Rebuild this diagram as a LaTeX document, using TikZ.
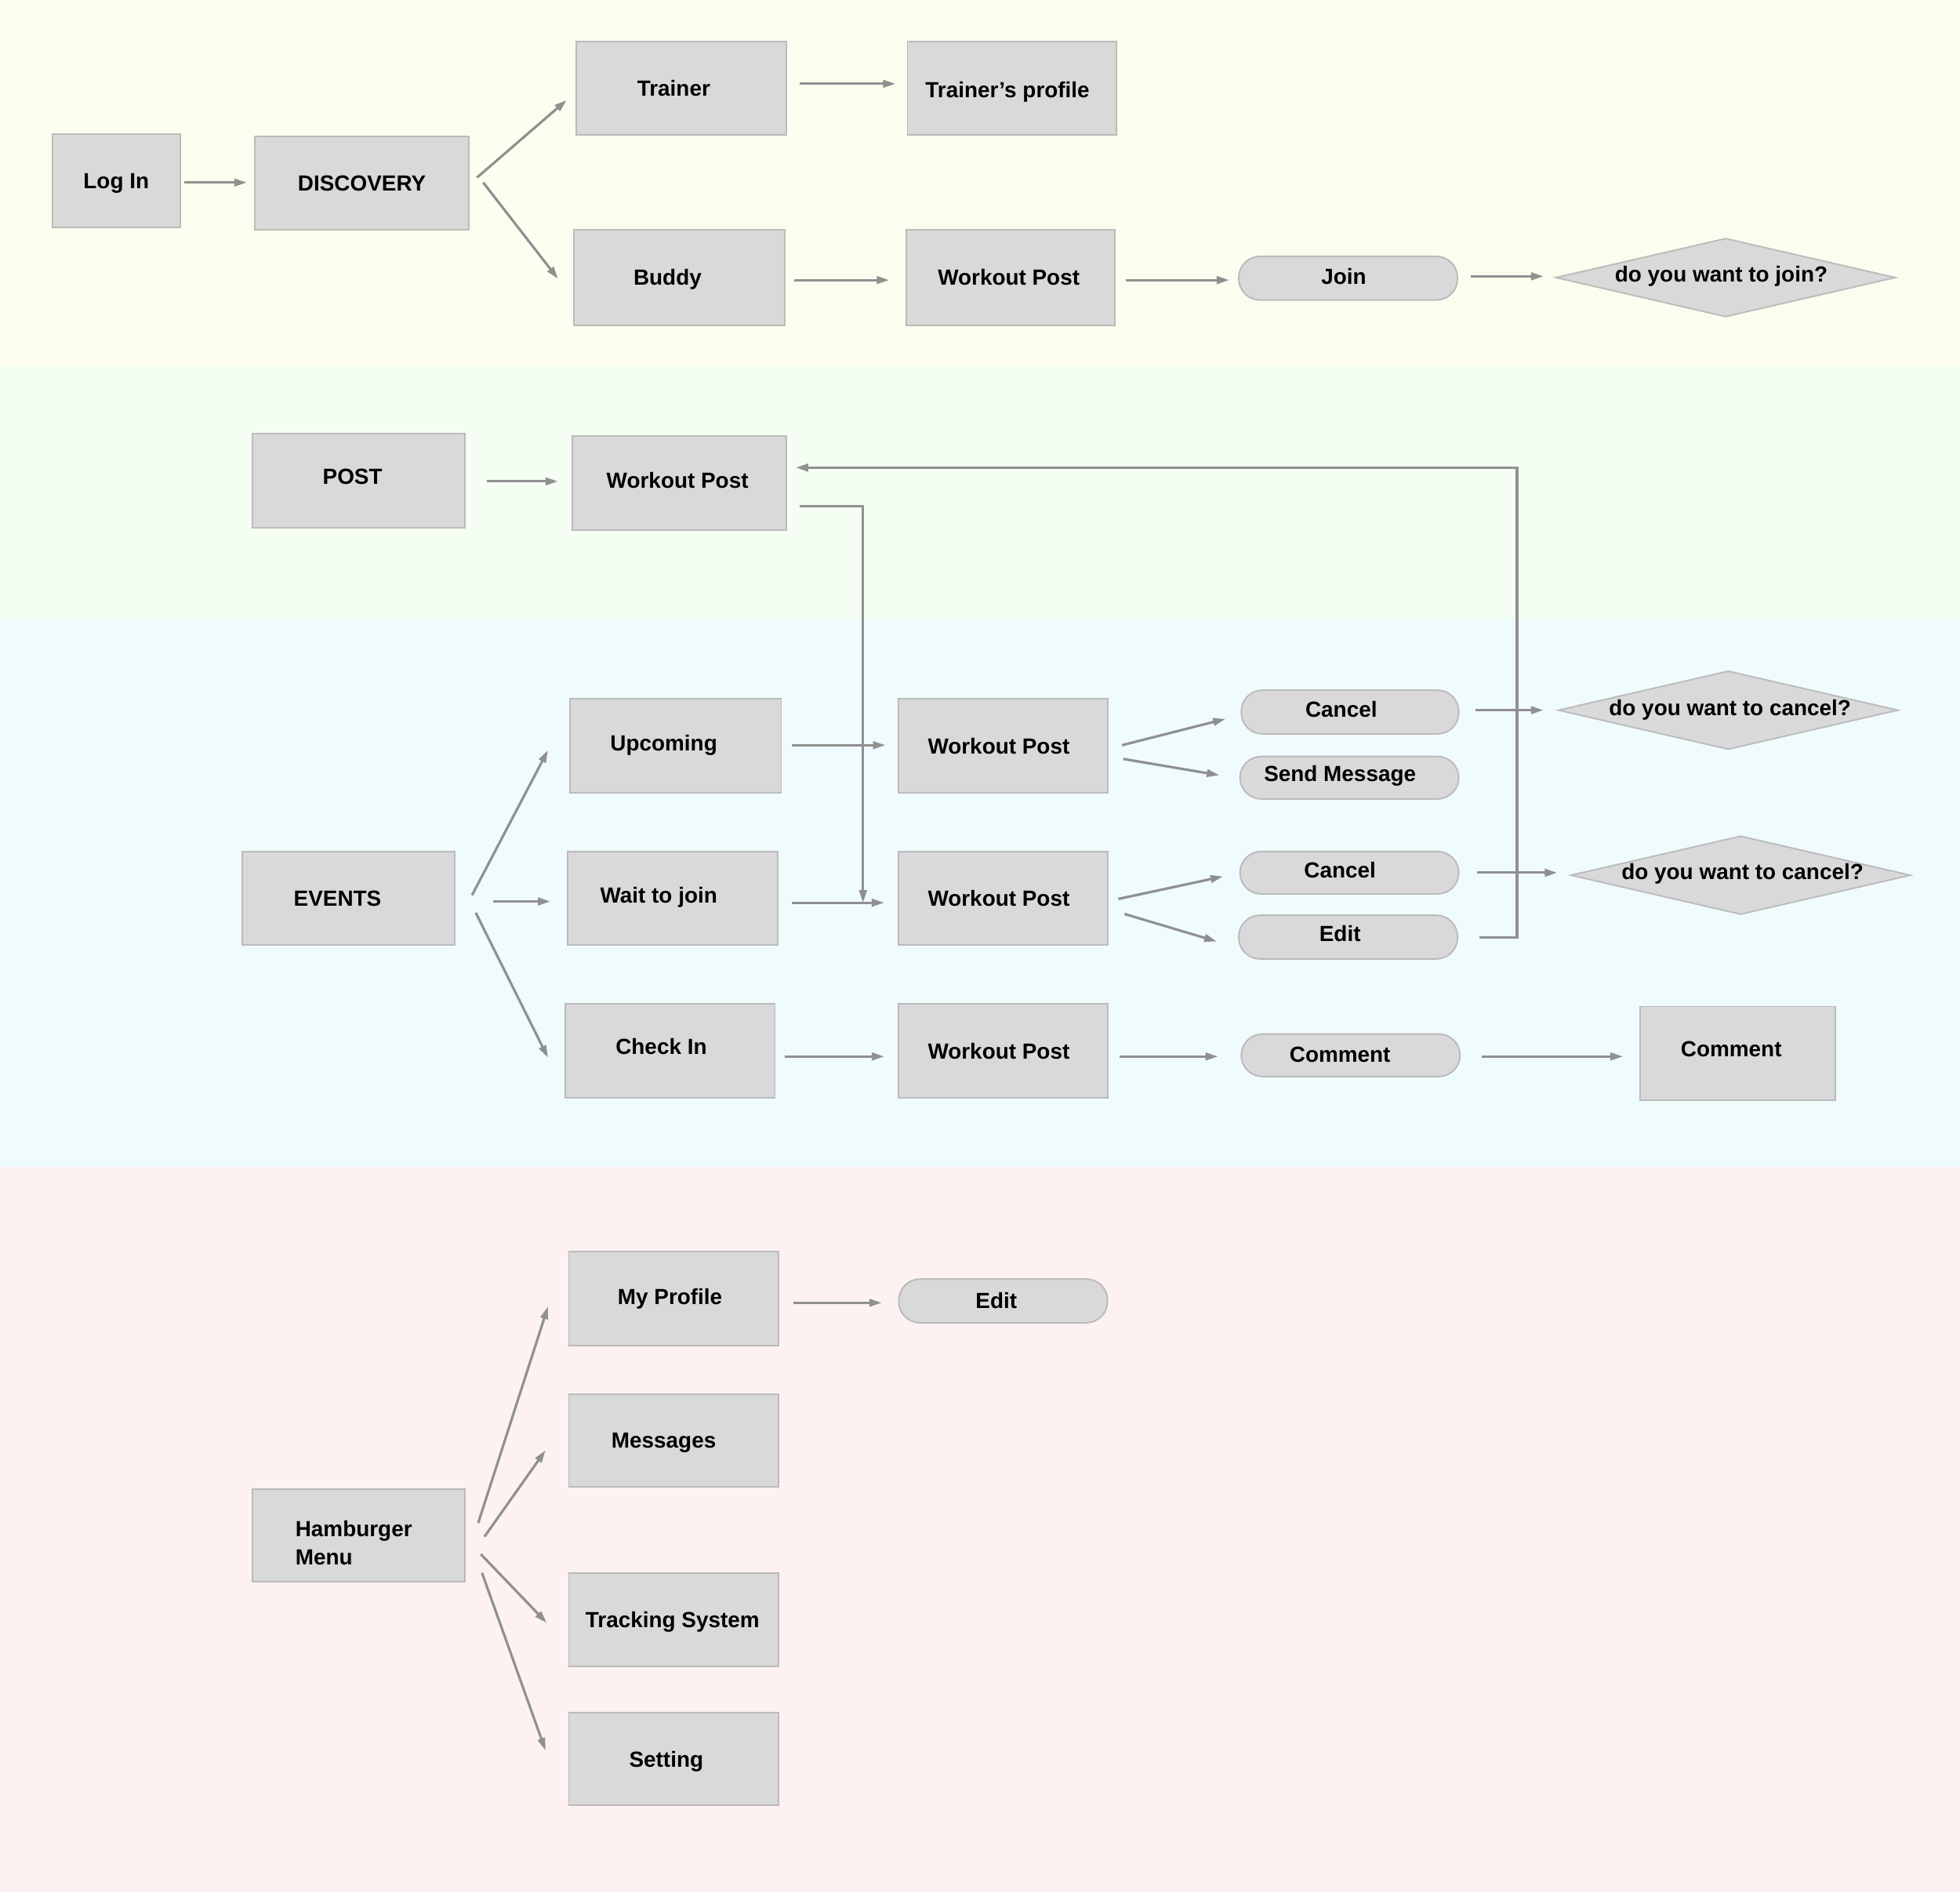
\documentclass[tikz,border=0pt]{standalone}
\usepackage{fontspec}
\setmainfont{Liberation Sans}
\usetikzlibrary{arrows.meta,calc}
\definecolor{bandY}{HTML}{FCFDEE}
\definecolor{bandG}{HTML}{F4FEF2}
\definecolor{bandB}{HTML}{F0FBFD}
\definecolor{bandP}{HTML}{FDF2F1}
\definecolor{boxc}{HTML}{D9D9D9}
\definecolor{bordc}{HTML}{BBBBBB}
\definecolor{arrc}{HTML}{909090}
\tikzset{
  box/.style={draw=bordc, fill=boxc, line width=1.2pt, inner sep=0pt},
  pill/.style={box, rounded corners=17pt},
  dmd/.style={inner sep=0pt},
  tx/.style={font=\fontsize{17.5}{22}\selectfont\bfseries, text=black, inner sep=0pt, text height=12.5pt, text depth=0pt},
  arr/.style={draw=arrc, line width=2pt, -{Triangle[length=10pt,width=6pt]}},
}
\begin{document}
\begin{tikzpicture}[x=1pt,y=-1pt]
\useasboundingbox (0,0) rectangle (1568,1513.45);
% bands
\fill[bandY] (0,0) rectangle (1568,293);
\fill[bandG] (0,293) rectangle (1568,495);
\fill[bandB] (0,495) rectangle (1568,933);
\fill[bandP] (0,933) rectangle (1568,1513.45);

% ---- DISCOVERY band
\node[box, minimum width=102pt, minimum height=75pt, label={[tx]center:Log In}] (login) at (93,144.5) {};
\node[box, minimum width=171pt, minimum height=75pt, label={[tx]center:DISCOVERY}] (disc) at (289.5,146.5) {};
\node[box, minimum width=168pt, minimum height=75pt, label={[tx,xshift=-6pt]center:Trainer}] (trainer) at (545,70.5) {};
\node[box, minimum width=167pt, minimum height=75pt, label={[tx,xshift=-3.5pt,yshift=-1.5pt]center:Trainer’s profile}] (tprof) at (809.5,70.5) {};
\node[box, minimum width=169pt, minimum height=76pt, label={[tx,xshift=-9.5pt]center:Buddy}] (buddy) at (543.5,222) {};
\node[box, minimum width=167pt, minimum height=76pt, label={[tx,xshift=-1.5pt]center:Workout Post}] (wp0) at (808.5,222) {};
\node[pill, minimum width=175pt, minimum height=35pt, label={[tx,xshift=-3.5pt,yshift=1.5pt]center:Join}] (join) at (1078.5,222.5) {};
\node[dmd, minimum width=271pt, minimum height=62pt] (djoin) at (1380.5,222) {};
\draw[box] (djoin.west) -- (djoin.north) -- (djoin.east) -- (djoin.south) -- cycle;
\node[tx] (djoint) at ($(djoin)+(-3.5,-3)$) {do you want to join?};

% ---- POST band
\node[box, minimum width=170pt, minimum height=75pt, label={[tx,xshift=-5pt,yshift=3.5pt]center:POST}] (post) at (287,384.5) {};
\node[box, minimum width=171pt, minimum height=75pt, label={[tx,xshift=-1.5pt,yshift=2.5pt]center:Workout Post}] (wpp) at (543.5,386.5) {};

% ---- EVENTS band
\node[box, minimum width=170pt, minimum height=75pt, label={[tx,xshift=-9pt]center:EVENTS}] (events) at (279,718.5) {};
\node[box, minimum width=169pt, minimum height=75pt, label={[tx,xshift=-9.5pt,yshift=2.5pt]center:Upcoming}] (upc) at (540.5,596.5) {};
\node[box, minimum width=168pt, minimum height=75pt, label={[tx,xshift=-11pt,yshift=2.5pt]center:Wait to join}] (wait) at (538,718.5) {};
\node[box, minimum width=168pt, minimum height=75pt, label={[tx,xshift=-7pt,yshift=3.5pt]center:Check In}] (chk) at (536,840.5) {};
\node[box, minimum width=167pt, minimum height=75pt, label={[tx,xshift=-3.5pt]center:Workout Post}] (wp1) at (802.5,596.5) {};
\node[box, minimum width=167pt, minimum height=75pt, label={[tx,xshift=-3.5pt]center:Workout Post}] (wp2) at (802.5,718.5) {};
\node[box, minimum width=167pt, minimum height=75pt, label={[tx,xshift=-3.5pt]center:Workout Post}] (wp3) at (802.5,840.5) {};
\node[pill, minimum width=174pt, minimum height=35pt, label={[tx,xshift=-7pt,yshift=2.5pt]center:Cancel}] (can1) at (1080,569.5) {};
\node[pill, minimum width=175pt, minimum height=34pt, label={[tx,xshift=-7.5pt,yshift=3pt]center:Send Message}] (msg) at (1079.5,622) {};
\node[pill, minimum width=175pt, minimum height=34pt, label={[tx,xshift=-7.5pt,yshift=2pt]center:Cancel}] (can2) at (1079.5,698) {};
\node[pill, minimum width=175pt, minimum height=35pt, label={[tx,xshift=-6.5pt,yshift=2.5pt]center:Edit}] (edit) at (1078.5,749.5) {};
\node[pill, minimum width=175pt, minimum height=34pt, label={[tx,xshift=-8.5pt,yshift=1pt]center:Comment}] (com) at (1080.5,844) {};
\node[box, minimum width=156pt, minimum height=75pt, label={[tx,xshift=-5pt,yshift=3.5pt]center:Comment}] (comb) at (1390,842.5) {};
\node[dmd, minimum width=271pt, minimum height=62pt] (dc1) at (1382.5,568) {};
\draw[box] (dc1.west) -- (dc1.north) -- (dc1.east) -- (dc1.south) -- cycle;
\node[tx] (dc1t) at ($(dc1)+(1.5,-2)$) {do you want to cancel?};
\node[dmd, minimum width=271pt, minimum height=62pt] (dc2) at (1392.5,700) {};
\draw[box] (dc2.west) -- (dc2.north) -- (dc2.east) -- (dc2.south) -- cycle;
\node[tx] (dc2t) at ($(dc2)+(1.5,-3)$) {do you want to cancel?};

% ---- MENU band
\node[box, minimum width=170pt, minimum height=74pt, label={[tx,align=left,xshift=-4pt,yshift=-17pt]center:{Hamburger\\Menu}}] (ham) at (287,1228) {};
\node[box, minimum width=168pt, minimum height=75pt, label={[tx,xshift=-3pt,yshift=1.5pt]center:My Profile}] (myp) at (539,1038.5) {};
\node[box, minimum width=168pt, minimum height=74pt, label={[tx,xshift=-8pt]center:Messages}] (msgs) at (539,1152) {};
\node[box, minimum width=168pt, minimum height=75pt, label={[tx,xshift=-1pt]center:Tracking System}] (trk) at (539,1295.5) {};
\node[box, minimum width=168pt, minimum height=74pt, label={[tx,xshift=-6pt]center:Setting}] (set) at (539,1407) {};
\node[pill, minimum width=167pt, minimum height=35pt, label={[tx,xshift=-5.5pt]center:Edit}] (pedit) at (802.5,1040.5) {};

% ---- connectors
\draw[arr] ($(login.east)+(3,1.5)$) -- ($(disc.west)+(-6,-0.5)$);
\draw[arr] ($(disc.east)+(6,-4.5)$) -- ($(trainer.west)+(-7,9.5)$);
\draw[arr] ($(disc.east)+(11,-0.5)$) -- ($(buddy.west)+(-12,1)$);
\draw[arr] ($(trainer.east)+(10,-3.5)$) -- ($(tprof.west)+(-9,-3.5)$);
\draw[arr] ($(buddy.east)+(7,2)$) -- ($(wp0.west)+(-13,2)$);
\draw[arr] ($(wp0.east)+(8,2)$) -- ($(join.west)+(-7,1.5)$);
\draw[arr] ($(join.east)+(10,-1.5)$) -- ($(djoin.west)+(-10,-1)$);

\draw[arr] ($(post.east)+(17,0.5)$) -- ($(wpp.west)+(-11,-1.5)$);
\draw[arr] ($(wpp.east)+(10,18.5)$) -| ($(wp2.west)+(-28,3.5)$);
\draw[arr] ($(edit.east)+(17,0.5)$) -- ++(30,0) |- ($(wpp.east)+(7,-12.5)$);

\draw[arr] ($(events.east)+(13,-2.5)$) -- ($(upc.west)+(-17,3.5)$);
\draw[arr] ($(events.east)+(30,2.5)$) -- ($(wait.west)+(-13,2.5)$);
\draw[arr] ($(events.east)+(16,11.5)$) -- ($(chk.west)+(-13,5.5)$);
\draw[arr] ($(upc.east)+(8,-0.5)$) -- ($(wp1.west)+(-10,-0.5)$);
\draw[arr] ($(wait.east)+(11,3.5)$) -- ($(wp2.west)+(-11,3.5)$);
\draw[arr] ($(chk.east)+(7,4.5)$) -- ($(wp3.west)+(-11,4.5)$);
\draw[arr] ($(wp1.east)+(11,-0.5)$) -- ($(can1.west)+(-12,5.5)$);
\draw[arr] ($(wp1.east)+(12,10.5)$) -- ($(msg.west)+(-16,-2)$);
\draw[arr] ($(wp2.east)+(8,0.5)$) -- ($(can2.west)+(-13,3)$);
\draw[arr] ($(wp2.east)+(13,12.5)$) -- ($(edit.west)+(-17,3.5)$);
\draw[arr] ($(wp3.east)+(9,4.5)$) -- ($(com.west)+(-18,1)$);
\draw[arr] ($(com.east)+(17,1)$) -- ($(comb.west)+(-13,2.5)$);
\draw[arr] ($(can1.east)+(13,-1.5)$) -- ($(dc1.west)+(-12,0)$);
\draw[arr] ($(can2.east)+(14,0)$) -- ($(dc2.west)+(-11,-2)$);

\draw[arr] ($(myp.east)+(11,3.5)$) -- ($(pedit.west)+(-13,1.5)$);
\draw[arr] ($(ham.east)+(10,-10)$) -- ($(myp.west)+(-16,6.5)$);
\draw[arr] ($(ham.east)+(15,1)$) -- ($(msgs.west)+(-18,8)$);
\draw[arr] ($(ham.east)+(12,15)$) -- ($(trk.west)+(-17,2.5)$);
\draw[arr] ($(ham.east)+(13,30)$) -- ($(set.west)+(-18,-7)$);
\end{tikzpicture}
\end{document}
